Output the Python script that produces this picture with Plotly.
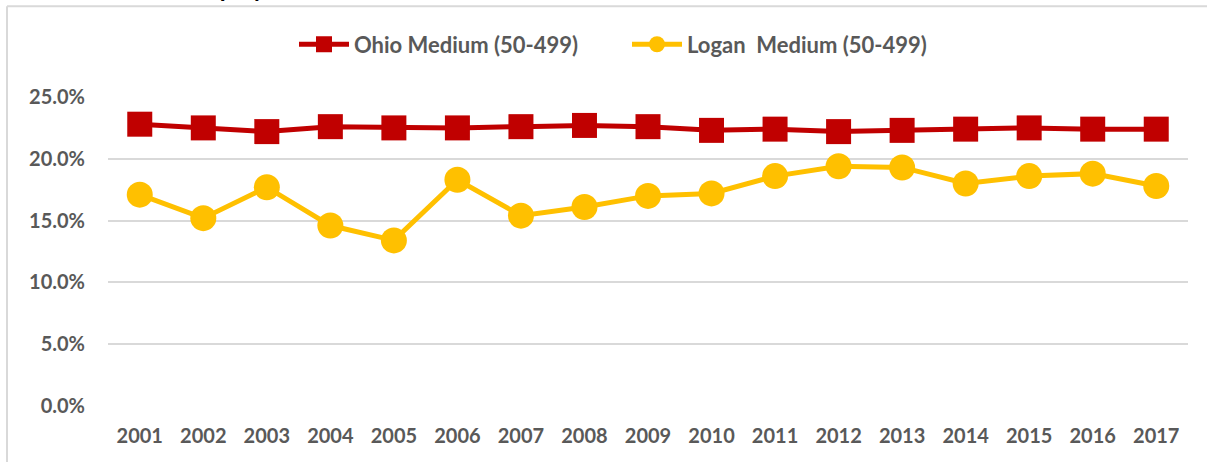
import plotly.graph_objects as go

years = [str(y) for y in range(2001, 2018)]
ohio = [22.8, 22.5, 22.2, 22.6, 22.5, 22.5, 22.6, 22.7, 22.6, 22.3, 22.4, 22.2, 22.3, 22.4, 22.5, 22.4, 22.4]
logan = [17.1, 15.2, 17.7, 14.6, 13.4, 18.3, 15.4, 16.1, 17.0, 17.2, 18.6, 19.4, 19.3, 18.0, 18.6, 18.8, 17.8]
y_ticks = [0, 5, 10, 15, 20, 25]
y_tick_labels = ["0.0%", "5.0%", "10.0%", "15.0%", "20.0%", "25.0%"]

FONT = "Lato"
GREY = "#595959"

fig = go.Figure()
fig.add_trace(go.Scatter(
    x=years, y=ohio, name="Ohio Medium (50-499)", mode="lines+markers",
    line=dict(color="#C00000", width=5),
    marker=dict(symbol="square", size=25, color="#C00000"),
    cliponaxis=False,
))
fig.add_trace(go.Scatter(
    x=years, y=logan, name="Logan  Medium (50-499)", mode="lines+markers",
    line=dict(color="#FFC000", width=5),
    marker=dict(symbol="circle", size=26, color="#FFC000"),
    cliponaxis=False,
))

fig.update_layout(
    width=1207, height=462,
    margin=dict(l=108, r=19, t=97, b=56, autoexpand=False),
    paper_bgcolor="white", plot_bgcolor="white",
    font=dict(family=FONT, color=GREY, size=20),
    showlegend=True,
    legend=dict(orientation="h", x=(294 - 108) / 1080, xanchor="left", y=1.17, yanchor="middle",
                font=dict(family=FONT, size=22, color=GREY, weight="bold"),
                itemwidth=50, entrywidth=268, entrywidthmode="pixels",
                tracegroupgap=0, bgcolor="rgba(0,0,0,0)"),
    xaxis=dict(type="category", range=[-0.5, 16.5], showgrid=False, showline=False,
               zeroline=False, ticks="", ticklabelstandoff=16,
               tickfont=dict(family=FONT, size=20, color=GREY, weight="bold")),
    yaxis=dict(range=[0, 25], tickvals=y_ticks, ticktext=y_tick_labels,
               showgrid=True, gridcolor="#D9D9D9", gridwidth=2, zeroline=False,
               showline=False, ticks="", ticklabelstandoff=22,
               tickfont=dict(family=FONT, size=20, color=GREY, weight="bold")),
    shapes=[
        dict(type="line", xref="paper", yref="paper", x0=-0.0935, x1=1.1, y0=1.294, y1=1.294,
             line=dict(color="#D9D9D9", width=2)),
        dict(type="line", xref="paper", yref="paper", x0=-0.0935, x1=-0.0935, y0=-0.3, y1=1.294,
             line=dict(color="#D9D9D9", width=2)),
    ],
    annotations=[
        dict(text="<b>Employment</b>", xref="paper", yref="paper", x=0.070, y=1.30,
             xanchor="left", yanchor="bottom", showarrow=False,
             font=dict(family=FONT, size=24, color="black")),
    ],
)

fig.write_html("out.html", config={"displayModeBar": False},
               post_script="document.body.style.margin='0px';")
